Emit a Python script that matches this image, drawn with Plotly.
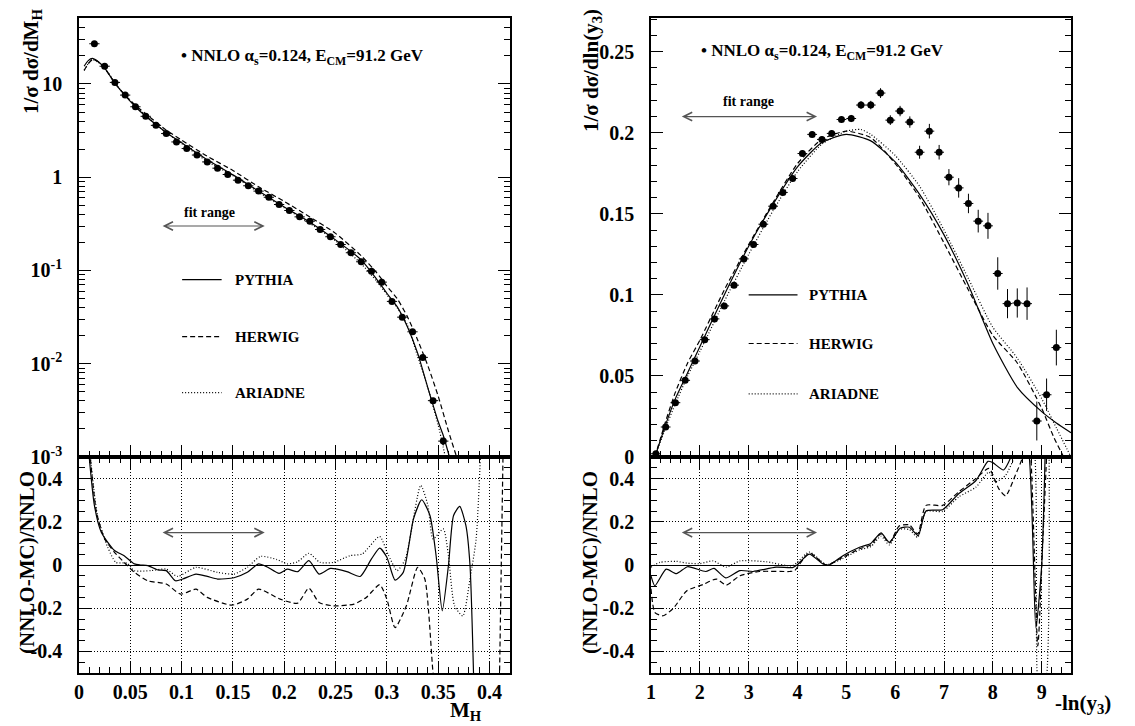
import math
import plotly.graph_objects as go

# ---------------- data: left (M_H) ----------------
mh_x = [0.015, 0.025, 0.035, 0.045, 0.055, 0.065, 0.075, 0.085, 0.095, 0.105,
        0.115, 0.125, 0.135, 0.145, 0.155, 0.165, 0.175, 0.185, 0.195, 0.205,
        0.215, 0.225, 0.235, 0.245, 0.255, 0.265, 0.275, 0.285, 0.295, 0.305,
        0.315, 0.325, 0.335, 0.345, 0.355]
mh_y = [27, 15.5, 10.4, 7.6, 5.7, 4.5, 3.6, 2.94, 2.39, 2.03,
        1.73, 1.46, 1.25, 1.07, 0.93, 0.81, 0.71, 0.61, 0.51, 0.44,
        0.376, 0.338, 0.275, 0.23, 0.19, 0.155, 0.124, 0.0984, 0.075, 0.0466,
        0.0316, 0.022, 0.0117, 0.00402, 0.00148]
mh_err = [0.6, 0.3, 0.2, 0.15, 0.11, 0.09, 0.07, 0.06, 0.05, 0.04,
          0.035, 0.03, 0.025, 0.021, 0.018, 0.016, 0.014, 0.012, 0.01, 0.009,
          0.008, 0.007, 0.006, 0.005, 0.004, 0.0035, 0.003, 0.0025, 0.002, 0.0015,
          0.0012, 0.0009, 0.0006, 0.0003, 0.00015]
mh_xerr = 0.005

mh_curve_x = [0.005, 0.009, 0.013, 0.018, 0.025, 0.035, 0.045, 0.055, 0.065, 0.075,
              0.085, 0.1, 0.125, 0.15, 0.175, 0.2, 0.225, 0.25, 0.275, 0.29,
              0.3, 0.31, 0.32, 0.33, 0.34, 0.35, 0.355, 0.361]
mh_pythia = [15.5, 17.8, 18.8, 17.6, 14.8, 10.2, 7.5, 5.7, 4.5, 3.68,
             3.02, 2.34, 1.54, 1.06, 0.71, 0.48, 0.33, 0.213, 0.13, 0.081,
             0.057, 0.041, 0.025, 0.013, 0.0055, 0.0024, 0.0017, 0.001]
mh_herwig_x = [0.005, 0.009, 0.013, 0.018, 0.025, 0.035, 0.045, 0.055, 0.065, 0.075,
               0.085, 0.1, 0.125, 0.15, 0.175, 0.2, 0.225, 0.25, 0.275, 0.29,
               0.3, 0.31, 0.32, 0.33, 0.34, 0.35, 0.36, 0.368]
mh_herwig = [14.0, 16.5, 18.2, 17.5, 14.8, 10.2, 7.6, 5.9, 4.8, 3.9,
             3.2, 2.5, 1.68, 1.18, 0.79, 0.55, 0.375, 0.25, 0.144, 0.095,
             0.068, 0.05, 0.032, 0.018, 0.0095, 0.0045, 0.0019, 0.001]
mh_ariadne_x = [0.005, 0.009, 0.013, 0.018, 0.025, 0.035, 0.045, 0.055, 0.065, 0.075,
                0.085, 0.1, 0.125, 0.15, 0.175, 0.2, 0.225, 0.25, 0.275, 0.29,
                0.3, 0.31, 0.32, 0.33, 0.34, 0.35, 0.357]
mh_ariadne = [14.0, 16.5, 18.3, 17.3, 15.0, 10.3, 7.5, 5.85, 4.6, 3.7,
              3.0, 2.3, 1.48, 1.04, 0.69, 0.47, 0.32, 0.208, 0.118, 0.077,
              0.055, 0.04, 0.026, 0.012, 0.0055, 0.0022, 0.001]

# ratio (NNLO-MC)/NNLO, left
mhr_pythia_x = [0.009, 0.015, 0.0217, 0.0346, 0.044, 0.054, 0.06, 0.067, 0.077, 0.085,
                0.094, 0.101, 0.114, 0.125, 0.135, 0.151, 0.164, 0.175, 0.183, 0.195,
                0.203, 0.213, 0.224, 0.234, 0.245, 0.261, 0.274, 0.285, 0.293, 0.3,
                0.308, 0.316, 0.326, 0.334, 0.342, 0.348, 0.354, 0.36, 0.365, 0.371,
                0.377, 0.381, 0.385]
mhr_pythia = [0.55, 0.276, 0.152, 0.067, 0.043, 0.005, 0.0, -0.003, -0.023, -0.026,
              -0.073, -0.065, -0.042, -0.053, -0.065, -0.059, -0.034, 0.005, -0.008, -0.039,
              -0.019, -0.031, 0.02, -0.042, -0.016, -0.031, -0.053, 0.028, 0.078, 0.036,
              -0.07, -0.034, 0.214, 0.302, 0.229, 0.043, -0.212, -0.003, 0.229, 0.271,
              0.183, 0.0, -0.6]
mhr_herwig_x = [0.009, 0.017, 0.025, 0.0346, 0.044, 0.054, 0.067, 0.085, 0.099, 0.114,
                0.125, 0.149, 0.164, 0.175, 0.196, 0.213, 0.224, 0.234, 0.248, 0.268,
                0.28, 0.293, 0.3, 0.308, 0.319, 0.33, 0.337, 0.345, 0.35]
mhr_herwig = [0.6, 0.245, 0.121, 0.059, 0.012, -0.034, -0.073, -0.088, -0.135, -0.112,
              -0.15, -0.186, -0.158, -0.112, -0.158, -0.177, -0.107, -0.174, -0.189, -0.181,
              -0.15, -0.091, -0.158, -0.29, -0.189, -0.011, -0.065, -0.5, -0.7]
mhr_herwig_tail_x = [0.4095, 0.4135]
mhr_herwig_tail = [-0.6, 0.6]
mhr_ariadne_x = [0.009, 0.018, 0.028, 0.036, 0.047, 0.054, 0.07, 0.085, 0.096, 0.114,
                 0.135, 0.151, 0.164, 0.177, 0.193, 0.203, 0.213, 0.224, 0.235, 0.248,
                 0.264, 0.276, 0.293, 0.301, 0.31, 0.318, 0.333, 0.34, 0.345, 0.355,
                 0.36, 0.366, 0.374, 0.381, 0.387, 0.392]
mhr_ariadne = [0.6, 0.229, 0.082, 0.012, 0.008, -0.026, -0.026, -0.019, -0.053, -0.011,
               -0.034, -0.042, -0.011, 0.04, 0.025, 0.005, 0.015, 0.054, 0.012, 0.012,
               0.043, 0.051, 0.132, 0.051, -0.026, 0.028, 0.369, 0.276, 0.121, 0.167,
               0.043, -0.189, -0.236, -0.065, 0.121, 0.6]

# ---------------- data: right (-ln y3) ----------------
y3_x = [1.1, 1.3, 1.5, 1.7, 1.9, 2.1, 2.3, 2.5, 2.7, 2.9,
        3.1, 3.3, 3.5, 3.7, 3.9, 4.1, 4.3, 4.5, 4.7, 4.9,
        5.1, 5.3, 5.5, 5.7, 5.9, 6.1, 6.3, 6.5, 6.7, 6.9,
        7.1, 7.3, 7.5, 7.7, 7.9, 8.1, 8.3, 8.5, 8.7, 8.9,
        9.1, 9.3]
y3_y = [0.002, 0.0185, 0.0335, 0.0473, 0.0592, 0.0724, 0.0852, 0.0932, 0.106, 0.1222,
        0.1311, 0.1436, 0.1547, 0.1632, 0.1718, 0.1872, 0.199, 0.1959, 0.1996, 0.2082,
        0.2088, 0.2171, 0.2171, 0.2245, 0.2078, 0.2134, 0.2066, 0.188, 0.201, 0.188,
        0.1726, 0.166, 0.1564, 0.1455, 0.1426, 0.1132, 0.0946, 0.095, 0.0946, 0.0222,
        0.0384, 0.0675]
y3_err = [0.001, 0.001, 0.001, 0.001, 0.001, 0.0012, 0.0012, 0.0012, 0.0013, 0.0013,
          0.0014, 0.0014, 0.0015, 0.0015, 0.0016, 0.0017, 0.0018, 0.002, 0.002, 0.002,
          0.0022, 0.0024, 0.0026, 0.003, 0.003, 0.0032, 0.0035, 0.004, 0.0045, 0.0045,
          0.005, 0.006, 0.006, 0.007, 0.008, 0.01, 0.009, 0.009, 0.01, 0.012,
          0.01, 0.011]
y3_xerr = 0.1

y3_curve_x = [1.08, 1.3, 1.5, 1.75, 2.0, 2.5, 3.0, 3.5, 4.0, 4.5,
              5.0, 5.5, 6.0, 6.5, 7.0, 7.5, 8.0, 8.5, 9.0, 9.3, 9.6]
y3_pythia = [0.0, 0.02, 0.036, 0.052, 0.068, 0.1, 0.13, 0.156, 0.179, 0.194,
             0.199, 0.195, 0.182, 0.162, 0.137, 0.106, 0.07, 0.043, 0.028, 0.021, 0.015]
y3_herwig_x = [1.08, 1.3, 1.5, 1.75, 2.0, 2.5, 3.0, 3.5, 4.0, 4.5,
               5.0, 5.5, 6.0, 6.5, 7.0, 7.5, 8.0, 8.5, 9.0, 9.25, 9.45]
y3_herwig = [0.0, 0.022, 0.04, 0.058, 0.072, 0.103, 0.131, 0.157, 0.181, 0.196,
             0.201, 0.197, 0.181, 0.16, 0.132, 0.103, 0.075, 0.058, 0.03, 0.012, 0.0]
y3_ariadne_x = [1.08, 1.3, 1.5, 1.75, 2.0, 2.5, 3.0, 3.5, 4.0, 4.5,
                5.0, 5.3, 5.5, 6.0, 6.5, 7.0, 7.5, 8.0, 8.5, 9.0, 9.3, 9.6]
y3_ariadne = [0.0, 0.018, 0.033, 0.05, 0.065, 0.096, 0.125, 0.152, 0.176, 0.193,
              0.201, 0.202, 0.199, 0.186, 0.167, 0.14, 0.11, 0.08, 0.061, 0.036, 0.018, 0.0]

y3r_pythia_x = [1.0, 1.08, 1.31, 1.52, 1.75, 2.12, 2.29, 2.53, 2.82, 3.09,
                3.56, 3.9, 3.99, 4.24, 4.52, 4.65, 4.93, 5.27, 5.5, 5.71,
                5.88, 6.1, 6.29, 6.47, 6.63, 6.97, 7.3, 7.65, 7.9, 7.99,
                8.22, 8.39, 8.55, 8.72, 8.88, 9.0, 9.08]
y3r_pythia = [-0.05, -0.096, -0.019, -0.04, -0.008, -0.03, -0.016, -0.06, -0.026, -0.03,
              -0.01, -0.012, 0.0, 0.05, 0.005, 0.0, 0.043, 0.082, 0.1, 0.149,
              0.105, 0.17, 0.175, 0.136, 0.25, 0.256, 0.33, 0.39, 0.48, 0.475,
              0.44, 0.51, 0.62, 0.55, -0.29, 0.0, 0.6]
y3r_herwig_x = [1.0, 1.08, 1.25, 1.46, 1.73, 2.07, 2.34, 2.54, 2.82, 3.22,
                3.84, 3.94, 4.24, 4.59, 4.93, 5.27, 5.5, 5.71, 5.88, 6.08,
                6.29, 6.46, 6.63, 6.97, 7.3, 7.65, 7.92, 8.12, 8.26, 8.46,
                8.63, 8.74, 8.92, 9.02, 9.12]
y3r_herwig = [-0.11, -0.22, -0.235, -0.2, -0.12, -0.09, -0.065, -0.093, -0.05, -0.03,
              -0.03, -0.026, 0.056, 0.0, 0.036, 0.075, 0.093, 0.144, 0.102, 0.18,
              0.186, 0.144, 0.276, 0.276, 0.338, 0.4, 0.447, 0.354, 0.32, 0.415,
              0.51, 0.6, -0.375, 0.1, 0.6]
y3r_ariadne_x = [1.0, 1.18, 1.52, 1.73, 2.0, 2.27, 2.54, 2.82, 3.36, 3.9,
                 4.24, 4.59, 4.93, 5.27, 5.5, 5.71, 5.88, 6.08, 6.29, 6.46,
                 6.63, 6.97, 7.3, 7.65, 7.92, 8.05, 8.26, 8.46, 8.6, 8.8,
                 8.95, 9.05, 9.15]
y3r_ariadne = [-0.01, 0.012, 0.017, 0.009, 0.006, 0.019, -0.01, 0.019, 0.015, -0.003,
               0.06, 0.002, 0.03, 0.07, 0.085, 0.133, 0.093, 0.164, 0.164, 0.128,
               0.248, 0.248, 0.315, 0.36, 0.43, 0.385, 0.415, 0.51, 0.6, 0.6,
               -0.6, -0.6, 0.6]

mh_ticks = [0.001, 0.01, 0.1, 1, 10]
mh_ticktext = ["10<sup>-3</sup>", "10<sup>-2</sup>", "10<sup>-1</sup>", "1", "10"]
mh_minor = [m * 10 ** e for e in (-3, -2, -1, 0, 1) for m in range(2, 10)]
ratio_ticks = [-0.4, -0.2, 0, 0.2, 0.4]
ratio_ticktext = ["-0.4", "-0.2", "0", "0.2", "0.4"]

legend_names = ["PYTHIA", "HERWIG", "ARIADNE"]
legend_dash = ["solid", "5px,3px", "1px,2px"]
mh_legend_y = [0.08, 0.0195, 0.0049]
y3_legend_y = [0.1, 0.07, 0.039]

FONT = "Liberation Serif"
BLACK = "black"
ARROW = "#555555"

# page geometry (browser body adds an 8px offset)
W, H = 1135, 726
OFF = 8

def px(p):
    return (p - OFF) / W

def py(p):
    return (H - (p - OFF)) / H

fig = go.Figure()

def line(x, y, dash, xa, ya, width=1.2):
    fig.add_trace(go.Scatter(x=x, y=y, mode="lines", xaxis=xa, yaxis=ya,
                             line=dict(color=BLACK, width=width, dash=dash,
                                       shape="spline", smoothing=0.6),
                             showlegend=False, hoverinfo="skip"))

# top-left
line(mh_curve_x, mh_pythia, legend_dash[0], "x", "y")
line(mh_herwig_x, mh_herwig, legend_dash[1], "x", "y")
line(mh_ariadne_x, mh_ariadne, legend_dash[2], "x", "y")
fig.add_trace(go.Scatter(x=mh_x, y=mh_y, mode="markers", xaxis="x", yaxis="y",
                         marker=dict(color=BLACK, size=7),
                         error_y=dict(type="data", array=mh_err, color=BLACK, thickness=1, width=0),
                         error_x=dict(type="constant", value=mh_xerr, color=BLACK, thickness=1, width=0),
                         showlegend=False))
# bottom-left
line(mhr_pythia_x, mhr_pythia, legend_dash[0], "x2", "y2")
line(mhr_herwig_x, mhr_herwig, legend_dash[1], "x2", "y2")
line(mhr_herwig_tail_x, mhr_herwig_tail, legend_dash[1], "x2", "y2")
line(mhr_ariadne_x, mhr_ariadne, legend_dash[2], "x2", "y2")
# top-right
line(y3_curve_x, y3_pythia, legend_dash[0], "x3", "y3")
line(y3_herwig_x, y3_herwig, legend_dash[1], "x3", "y3")
line(y3_ariadne_x, y3_ariadne, legend_dash[2], "x3", "y3")
fig.add_trace(go.Scatter(x=y3_x, y=y3_y, mode="markers", xaxis="x3", yaxis="y3",
                         marker=dict(color=BLACK, size=7),
                         error_y=dict(type="data", array=y3_err, color=BLACK, thickness=1, width=0),
                         error_x=dict(type="constant", value=y3_xerr, color=BLACK, thickness=1, width=0),
                         showlegend=False))
# bottom-right
line(y3r_pythia_x, y3r_pythia, legend_dash[0], "x4", "y4")
line(y3r_herwig_x, y3r_herwig, legend_dash[1], "x4", "y4")
line(y3r_ariadne_x, y3r_ariadne, legend_dash[2], "x4", "y4")

# legend samples
for i in range(3):
    fig.add_trace(go.Scatter(x=[0.1005, 0.139], y=[mh_legend_y[i]] * 2, mode="lines",
                             xaxis="x", yaxis="y", showlegend=False, hoverinfo="skip",
                             line=dict(color=BLACK, width=1.2, dash=legend_dash[i])))
    fig.add_trace(go.Scatter(x=[3.0, 4.0], y=[y3_legend_y[i]] * 2, mode="lines",
                             xaxis="x3", yaxis="y3", showlegend=False, hoverinfo="skip",
                             line=dict(color=BLACK, width=1.2, dash=legend_dash[i])))

ann = []
for i in range(3):
    ann.append(dict(x=0.150, y=math.log10(mh_legend_y[i]), xref="x", yref="y",
                    text="<b>%s</b>" % legend_names[i], showarrow=False,
                    xanchor="left", yanchor="middle", font=dict(size=15)))
    ann.append(dict(x=4.2, y=y3_legend_y[i], xref="x3", yref="y3",
                    text="<b>%s</b>" % legend_names[i], showarrow=False,
                    xanchor="left", yanchor="middle", font=dict(size=15)))

title_txt = "<b>\u2022 NNLO \u03b1<sub>s</sub>=0.124, E<sub>CM</sub>=91.2 GeV</b>"
ann.append(dict(x=0.097, y=math.log10(19.5), xref="x", yref="y", text=title_txt,
                showarrow=False, xanchor="left", yanchor="middle", font=dict(size=17)))
ann.append(dict(x=1.98, y=0.25, xref="x3", yref="y3", text=title_txt,
                showarrow=False, xanchor="left", yanchor="middle", font=dict(size=17)))

# fit range
ann.append(dict(x=0.127, y=math.log10(0.42), xref="x", yref="y", text="<b>fit range</b>",
                showarrow=False, font=dict(size=14)))
ann.append(dict(x=3.0, y=0.219, xref="x3", yref="y3", text="<b>fit range</b>",
                showarrow=False, font=dict(size=14)))

def arrow(x0, x1, y, xr, yr):
    ann.append(dict(x=x1, y=y, ax=x0, ay=y, xref=xr, yref=yr, axref=xr, ayref=yr,
                    text="", showarrow=True, arrowhead=5, startarrowhead=5,
                    arrowside="end+start", arrowsize=1.4, arrowwidth=1.2,
                    arrowcolor=ARROW, standoff=0, startstandoff=0))

arrow(0.08, 0.181, math.log10(0.3), "x", "y")
arrow(0.08, 0.181, 0.15, "x2", "y2")
arrow(1.6, 4.4, 0.21, "x3", "y3")
arrow(1.6, 4.4, 0.15, "x4", "y4")

def paper_text(x, y, text, angle=0, xanchor="center"):
    ann.append(dict(x=px(x), y=py(y), xref="paper", yref="paper", textangle=angle,
                    text=text, showarrow=False, xanchor=xanchor, yanchor="middle",
                    font=dict(size=21)))

# axis titles
paper_text(32, 62, "<b>1/\u03c3 d\u03c3/dM<sub>H</sub></b>", -90)
paper_text(27, 563, "<b>(NNLO-MC)/NNLO</b>", -90)
paper_text(592, 71, "<b>1/\u03c3 d\u03c3/dln(y<sub>3</sub>)</b>", -90)
paper_text(590, 563, "<b>(NNLO-MC)/NNLO</b>", -90)
paper_text(466, 711, "<b>M<sub>H</sub></b>")
paper_text(1113, 704, "<b>-ln(y<sub>3</sub>)</b>", 0, "right")

XL = [px(79), px(510)]
XR = [px(651), px(1071)]
YT = [py(457), py(18)]
YB = [py(673), py(457)]

tickfont = dict(family=FONT, size=20, color=BLACK, weight="bold")
STANDOFF = 11

def xaxis(domain, rng, dtick, mdtick, anchor, labels, mirror, grid):
    return dict(domain=domain, range=rng, anchor=anchor, tick0=0 if dtick < 1 else 1,
                dtick=dtick, ticks="inside", ticklen=12, tickwidth=1, tickcolor=BLACK,
                showticklabels=labels, tickfont=tickfont, automargin=False,
                showline=True, linecolor=BLACK, linewidth=1.5, mirror=mirror,
                zeroline=False, showgrid=grid, gridcolor=BLACK, gridwidth=1, griddash="1px,2px",
                minor=dict(dtick=mdtick, ticks="inside", ticklen=6, tickcolor=BLACK,
                           showgrid=False))

def yaxis_ratio(domain, anchor):
    return dict(domain=domain, range=[-0.5, 0.5], anchor=anchor,
                tickmode="array", tickvals=ratio_ticks, ticktext=ratio_ticktext,
                ticks="inside", ticklen=12, tickwidth=1, tickcolor=BLACK,
                tickfont=tickfont, ticklabelstandoff=STANDOFF, automargin=False,
                showline=True, linecolor=BLACK, linewidth=1.5, mirror="ticks",
                zeroline=True, zerolinecolor=BLACK, zerolinewidth=1.2,
                showgrid=True, gridcolor=BLACK, gridwidth=1, griddash="1px,2px",
                minor=dict(dtick=0.05, tick0=0, ticks="inside", ticklen=6, tickcolor=BLACK,
                           showgrid=False))

fig.update_layout(
    width=W, height=H,
    margin=dict(l=0, r=0, t=0, b=0, autoexpand=False),
    paper_bgcolor="white", plot_bgcolor="white",
    font=dict(family=FONT, color=BLACK, weight="bold"),
    showlegend=False,
    annotations=ann,
    xaxis=xaxis(XL, [0, 0.42], 0.05, 0.01, "y", False, True, False),
    xaxis2=xaxis(XL, [0, 0.42], 0.05, 0.01, "y2", True, "ticks", True),
    xaxis3=xaxis(XR, [1, 9.6], 1, 0.2, "y3", False, True, False),
    xaxis4=xaxis(XR, [1, 9.6], 1, 0.2, "y4", True, "ticks", True),
    yaxis=dict(domain=YT, type="log", range=[-3, math.log10(51)], anchor="x",
               tickmode="array", tickvals=mh_ticks, ticktext=mh_ticktext,
               ticks="inside", ticklen=12, tickcolor=BLACK, tickfont=tickfont,
               ticklabelstandoff=STANDOFF, automargin=False,
               showline=True, linecolor=BLACK, linewidth=1.5, mirror="ticks",
               showgrid=False, zeroline=False,
               minor=dict(tickmode="array", tickvals=mh_minor, ticks="inside",
                          ticklen=6, tickcolor=BLACK, showgrid=False)),
    yaxis2=yaxis_ratio(YB, "x2"),
    yaxis3=dict(domain=YT, range=[0, 0.2708], anchor="x3", tick0=0, dtick=0.05,
                ticks="inside", ticklen=12, tickwidth=1, tickcolor=BLACK,
                tickfont=tickfont, ticklabelstandoff=STANDOFF, automargin=False,
                showline=True, linecolor=BLACK, linewidth=1.5, mirror="ticks",
                zeroline=False, showgrid=False,
                minor=dict(dtick=0.01, ticks="inside", ticklen=6, tickcolor=BLACK,
                           showgrid=False)),
    yaxis4=yaxis_ratio(YB, "x4"),
)

fig.write_html("out.html")
